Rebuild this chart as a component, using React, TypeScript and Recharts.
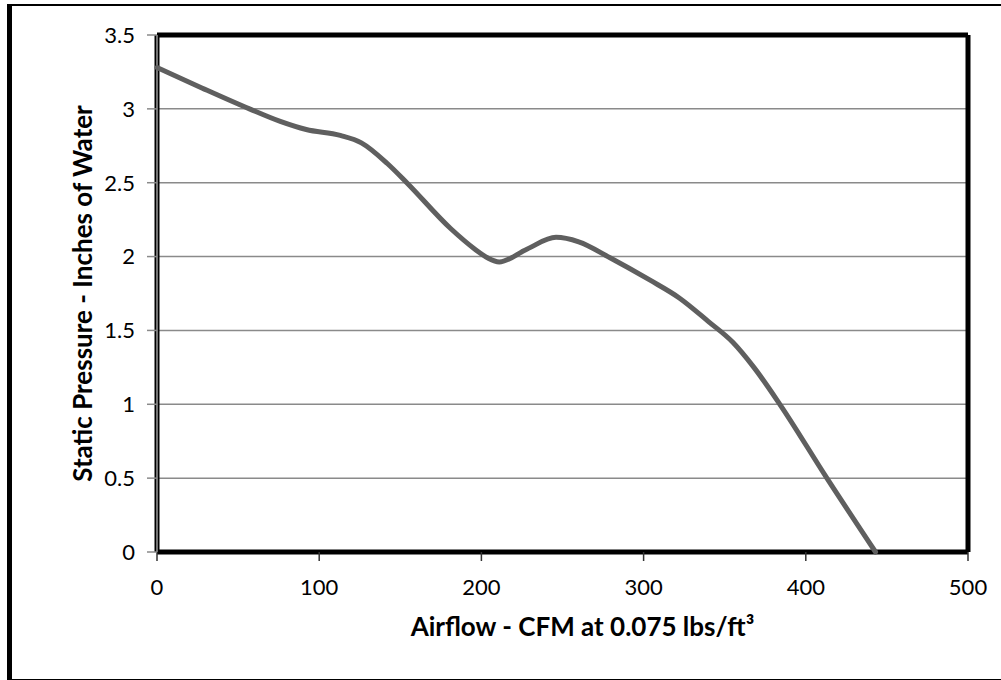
import React from 'react'
import {
  LineChart, Line, XAxis, YAxis, CartesianGrid, ReferenceLine, Label
} from 'recharts'

// airflow (CFM) vs static pressure (in. of water)
const airflow = [0, 28, 57, 76, 92, 113, 126, 142, 154, 181, 196, 204, 211, 228, 246, 260, 279, 304, 322, 340, 355, 368, 384, 413, 443]
const pressure = [3.28, 3.14, 3.0, 2.915, 2.86, 2.82, 2.77, 2.63, 2.5, 2.19, 2.05, 1.99, 1.964, 2.05, 2.13, 2.1, 1.994, 1.84, 1.72, 1.56, 1.42, 1.25, 1.0, 0.5, 0]

const xTicks = [0, 100, 200, 300, 400, 500]
const yTicks = [0, 0.5, 1, 1.5, 2, 2.5, 3, 3.5]

const data = airflow.map((x, i) => ({ x, p: pressure[i] }))

const font = 'Lato, "Open Sans", sans-serif'

export default function App() {
  return (
    <div style={{ position: 'absolute', left: 0, top: 0, width: 1001, height: 680, background: '#fff', fontFamily: font }}>
      <div style={{
        position: 'absolute', left: 7, top: 4, width: 1001, height: 673,
        borderLeft: '5px solid #000', borderTop: '2px solid #000', borderBottom: '2px solid #000'
      }} />
      <div style={{ position: 'absolute', left: 0, top: 0 }}>
        <LineChart width={1001} height={680} data={data}
          margin={{ top: 35, right: 33, left: 97, bottom: 68 }}>
          <CartesianGrid vertical={false} stroke="#8a8a8a" strokeWidth={1.5} />
          <XAxis
            dataKey="x" type="number" domain={[0, 500]} ticks={xTicks}
            height={60} tickSize={9} tickMargin={18}
            axisLine={false} tickLine={{ stroke: '#333', strokeWidth: 1.5 }}
            tick={{ fontSize: 22, fill: '#000', fontFamily: font }}
          >
            <Label value="Airflow - CFM at 0.075 lbs/ft³" position="bottom" offset={6} dx={20}
              style={{ fontSize: 26, fontWeight: 700, fill: '#000', fontFamily: font }} />
          </XAxis>
          <YAxis
            type="number" domain={[0, 3.5]} ticks={yTicks} width={60}
            tickSize={10} tickMargin={12}
            axisLine={false} tickLine={{ stroke: '#8a8a8a', strokeWidth: 1.5 }}
            tick={{ fontSize: 22, fill: '#000', fontFamily: font }}
          >
            <Label value="Static Pressure - Inches of Water" angle={-90} position="left" offset={34} dx={20}
              style={{ fontSize: 26, fontWeight: 700, fill: '#000', fontFamily: font, textAnchor: 'middle' }} />
          </YAxis>
          <ReferenceLine y={3.5} stroke="#000" strokeWidth={5} />
          <ReferenceLine y={0} stroke="#000" strokeWidth={5} />
          <ReferenceLine x={500} stroke="#000" strokeWidth={5} />
          <ReferenceLine x={0} stroke="#000" strokeWidth={5} />
          <ReferenceLine x={0} stroke="#999" strokeWidth={1.5} />
          <Line
            type="monotone" dataKey="p" stroke="#5f5f5f" strokeWidth={5}
            dot={false} isAnimationActive={false} strokeLinecap="round"
          />
        </LineChart>
      </div>
    </div>
  )
}
